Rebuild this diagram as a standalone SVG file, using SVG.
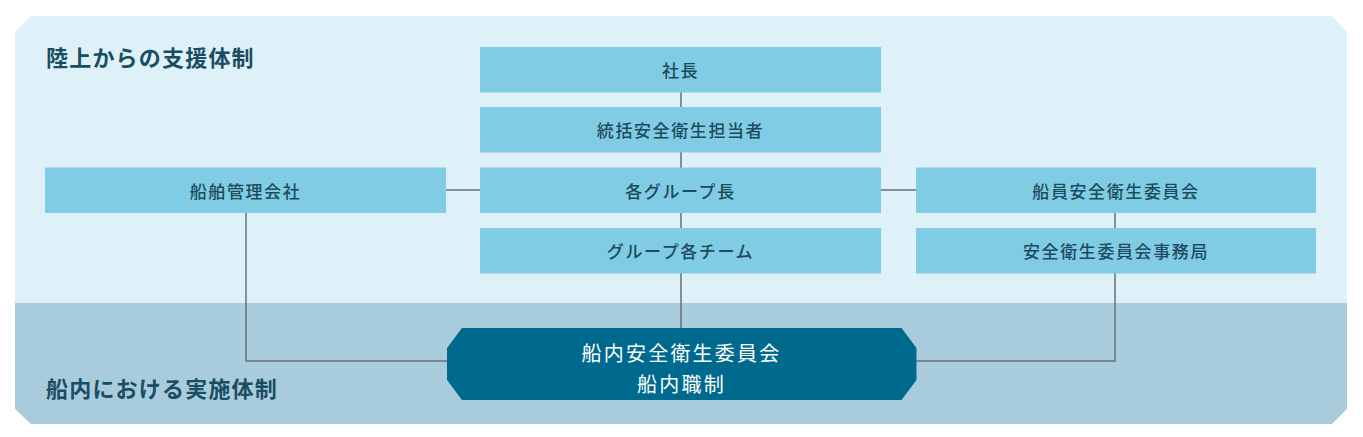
<svg xmlns="http://www.w3.org/2000/svg" width="1363" height="437" viewBox="0 0 1363 437">
<style>
.box{fill:#80cce4;}
.bt{font-family:"Noto Sans CJK JP","Noto Sans",sans-serif;font-size:17px;font-weight:500;fill:#1d4a5c;letter-spacing:1.6px;text-anchor:middle;dominant-baseline:central;}
.title{font-family:"Noto Sans CJK JP","Noto Sans",sans-serif;font-size:22px;font-weight:700;fill:#1a4d62;letter-spacing:1.2px;dominant-baseline:central;}
.ct{font-family:"Noto Sans CJK JP","Noto Sans",sans-serif;font-size:20px;font-weight:400;fill:#ffffff;letter-spacing:2.2px;text-anchor:middle;dominant-baseline:central;}
.ln{stroke:#6b6f72;stroke-width:1.5;fill:none;}
</style>
<g id="background">
<path d="M15 32 L31 16 L1332 16 L1347 32 L1347 303 L15 303 Z" fill="#def0f8"/>
<path d="M15 303 L1347 303 L1347 409 L1332 424 L31 424 L15 409 Z" fill="#a8ccdb"/>
<text class="title" x="46" y="56">陸上からの支援体制</text>
<text class="title" x="46" y="387">船内における実施体制</text>
</g>
<g id="connectors">
<line class="ln" x1="681" y1="92" x2="681" y2="328"/>
<line class="ln" x1="445" y1="190" x2="481" y2="190"/>
<line class="ln" x1="880" y1="190" x2="916" y2="190"/>
<polyline class="ln" points="246,212 246,361 447,361"/>
<line class="ln" x1="1115" y1="212" x2="1115" y2="228"/>
<polyline class="ln" points="1115,273 1115,361 916,361"/>
</g>
<g id="n-shacho"><rect class="box" x="480" y="47" width="401" height="45.5"/><text class="bt" x="680.5" y="69.5">社長</text></g>
<g id="n-tokatsu"><rect class="box" x="480" y="107" width="401" height="45.5"/><text class="bt" x="680.5" y="129.5">統括安全衛生担当者</text></g>
<g id="n-groupcho"><rect class="box" x="480" y="167.5" width="401" height="45.5"/><text class="bt" x="680.5" y="190">各グループ長</text></g>
<g id="n-team"><rect class="box" x="480" y="228" width="401" height="45.5"/><text class="bt" x="680.5" y="250.5">グループ各チーム</text></g>
<g id="n-senpaku"><rect class="box" x="45" y="167.5" width="401" height="45.5"/><text class="bt" x="245.5" y="190">船舶管理会社</text></g>
<g id="n-iinkai"><rect class="box" x="916" y="167.5" width="400" height="45.5"/><text class="bt" x="1116" y="190">船員安全衛生委員会</text></g>
<g id="n-jimukyoku"><rect class="box" x="916" y="228" width="400" height="45.5"/><text class="bt" x="1116" y="250.5">安全衛生委員会事務局</text></g>
<g id="n-sennai">
<path d="M462 328 L901.5 328 L916.5 348 L916.5 380 L901.5 400 L462 400 L447 380 L447 348 Z" fill="#006a8e"/>
<text class="ct" x="681.5" y="352.5">船内安全衛生委員会</text>
<text class="ct" x="681.5" y="383">船内職制</text>
</g>
</svg>
